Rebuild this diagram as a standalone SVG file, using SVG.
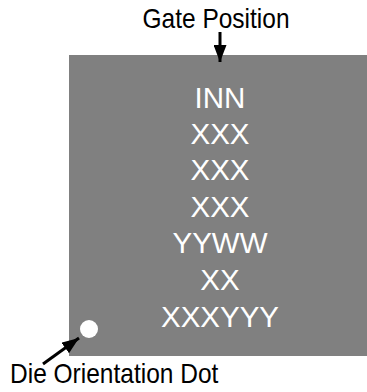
<svg xmlns="http://www.w3.org/2000/svg" width="367" height="392" viewBox="0 0 367 392">
<style>
.lbl{font-family:"Liberation Sans",Arial,sans-serif;font-size:24.5px;fill:#000}
.mark{font-family:"Liberation Sans",Arial,sans-serif;font-size:29.5px;fill:#fff;text-anchor:middle}
.conn{stroke:#000;stroke-width:3;fill:none}
</style>
<defs>
<marker id="ah" viewBox="0 0 17 13" refX="17" refY="6.5" markerWidth="17" markerHeight="13" markerUnits="userSpaceOnUse" orient="auto">
<path d="M0,0 L17,6.5 L0,13 Z" fill="#000"/>
</marker>
</defs>
<g id="chip">
<rect x="69" y="55" width="298" height="301" fill="#808080"/>
<circle cx="89" cy="329" r="9" fill="#fff"/>
</g>
<g id="marking">
<text class="mark" x="220" y="108">INN</text>
<text class="mark" x="220" y="144">XXX</text>
<text class="mark" x="220" y="180">XXX</text>
<text class="mark" x="220" y="217">XXX</text>
<text class="mark" x="220" y="253">YYWW</text>
<text class="mark" x="220" y="290">XX</text>
<text class="mark" x="220" y="327">XXXYYY</text>
</g>
<g id="gate-label"><text class="lbl" transform="translate(216,28) scale(1,1.12)" text-anchor="middle">Gate Position</text></g>
<g id="dot-label"><text class="lbl" transform="translate(10,383) scale(1,1.1)">Die Orientation Dot</text></g>
<g id="connectors">
<line class="conn" x1="220" y1="32" x2="220" y2="62" marker-end="url(#ah)"/>
<line class="conn" x1="43" y1="364" x2="79" y2="338" marker-end="url(#ah)"/>
</g>
</svg>
